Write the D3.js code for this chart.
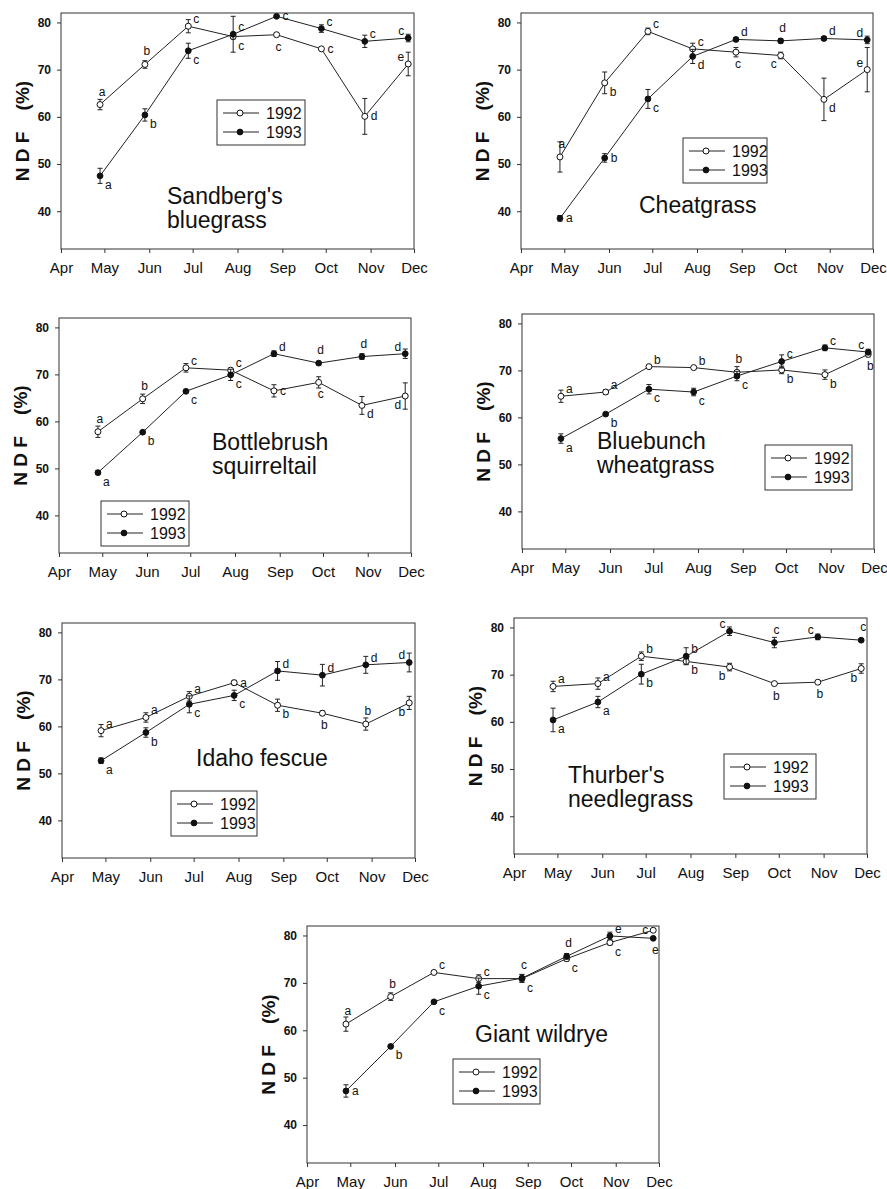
<!DOCTYPE html>
<html>
<head>
<meta charset="utf-8">
<script src="https://cdn.jsdelivr.net/npm/d3@7/dist/d3.min.js"></script>
<style>
body { margin: 0; background: #fff; }
svg { font-family: "Liberation Sans", Arial, sans-serif; }
</style>
</head>
<body>
<svg width="887" height="1189"></svg>
<script>
// sampling dates (close to the end of each month)
var sampleDates = ["1992-04-28", "1992-05-29", "1992-06-28", "1992-07-29",
                   "1992-08-28", "1992-09-28", "1992-10-28", "1992-11-27"];
var monthTicks = ["1992-04-01", "1992-05-01", "1992-06-01", "1992-07-01", "1992-08-01",
                  "1992-09-01", "1992-10-01", "1992-11-01", "1992-12-01"];
var yTicks = [40, 50, 60, 70, 80];
var years = ["1992", "1993"];

var species = [["Sandberg's", "bluegrass"], ["Cheatgrass"], ["Bottlebrush", "squirreltail"],
               ["Bluebunch", "wheatgrass"], ["Idaho fescue"], ["Thurber's", "needlegrass"],
               ["Giant wildrye"]];

// NDF (%) means, one row per species
var ndf1992 = [
  [62.6, 71.1, 79.2, 77.0, 77.4, 74.4, 60.1, 71.2],
  [51.5, 67.2, 78.1, 74.4, 73.7, 73.0, 63.7, 70.0],
  [57.8, 64.8, 71.4, 70.9, 66.5, 68.3, 63.4, 65.4],
  [64.5, 65.4, 70.8, 70.6, 69.6, 70.1, 69.1, 73.4],
  [59.1, 61.9, 66.4, 69.3, 64.5, 62.8, 60.5, 65.0],
  [67.5, 68.1, 73.9, 72.8, 71.6, 68.1, 68.4, 71.3],
  [61.3, 67.1, 72.2, 70.9, 70.9, 75.1, 78.5, 81.1]
];
var ndf1993 = [
  [47.5, 60.4, 74.0, 77.5, 81.3, 78.7, 76.0, 76.7],
  [38.5, 51.3, 63.8, 72.8, 76.4, 76.1, 76.6, 76.3],
  [49.1, 57.7, 66.4, 69.9, 74.4, 72.4, 73.8, 74.4],
  [55.5, 60.7, 66.0, 65.4, 68.8, 71.9, 74.8, 73.9],
  [52.7, 58.7, 64.7, 66.6, 71.8, 70.9, 73.1, 73.6],
  [60.4, 64.2, 70.1, 73.9, 79.2, 76.8, 78.0, 77.3],
  [47.2, 56.6, 66.0, 69.3, 71.0, 75.6, 79.9, 79.4]
];
// standard errors
var se1992 = [
  [1.1, 0.8, 1.4, 0.5, 0.4, 0.3, 3.8, 2.5],
  [3.2, 2.3, 0.7, 1.2, 1.0, 0.7, 4.5, 4.7],
  [1.2, 1.0, 0.9, 0.4, 1.3, 1.2, 1.9, 2.8],
  [1.3, 0.5, 0.3, 0.3, 1.2, 0.8, 1.0, 0.5],
  [1.3, 1.0, 1.0, 0.5, 1.3, 0.5, 1.3, 1.4],
  [1.1, 1.2, 0.9, 0.6, 0.8, 0.3, 0.3, 1.0],
  [1.5, 0.8, 0.2, 0.8, 0.8, 0.5, 0.5, 0.2]
];
var se1993 = [
  [1.6, 1.3, 1.6, 3.8, 0.3, 0.8, 1.3, 0.8],
  [0.6, 0.9, 2.0, 1.5, 0.4, 0.5, 0.4, 0.8],
  [0.4, 0.3, 0.3, 1.2, 0.6, 0.4, 0.6, 1.0],
  [1.0, 0.3, 1.0, 0.8, 1.0, 1.4, 0.6, 0.6],
  [0.6, 1.0, 1.8, 1.1, 2.0, 2.3, 1.8, 2.0],
  [2.5, 1.2, 2.1, 1.8, 0.9, 1.1, 0.6, 0.3],
  [1.3, 0.3, 0.2, 1.7, 0.8, 0.6, 0.8, 0.2]
];
// significance letters
var letters1992 = ["abccccde", "abccccde", "abccccdd", "aabbbbbb", "aaaabbbb", "aabbbbbb", "abcccccc"];
var letters1993 = ["abcccccc", "abcddddd", "abccdddd", "abcccccc", "abccdddd", "aabbcccc", "abcccdee"];

// where each letter sits next to its point
var pos1992 = [
  ["u", "u", "ur", "dr", "d", "r", "r", "ul"],
  ["u", "dr", "ur", "ur", "d", "dl", "dr", "ul"],
  ["u", "u", "ur", "ur", "r", "d", "dr", "dl"],
  ["ur", "ur", "ur", "ur", "u", "dr", "dr", "d"],
  ["ur", "ur", "ur", "r", "dr", "d", "u", "dl"],
  ["ur", "ur", "ur", "dr", "dl", "d", "d", "dl"],
  ["u", "u", "ur", "ur", "dr", "dr", "dr", "l"]
];
var pos1993 = [
  ["dr", "dr", "dr", "ur", "r", "ur", "ur", "ul"],
  ["r", "r", "dr", "dr", "ur", "u", "ur", "ul"],
  ["dr", "dr", "dr", "dr", "ur", "u", "u", "ul"],
  ["dr", "dr", "dr", "dr", "dr", "ur", "ur", "ul"],
  ["dr", "dr", "dr", "dr", "ur", "ur", "ur", "ul"],
  ["dr", "dr", "dr", "ur", "ul", "u", "ul", "u"],
  ["r", "dr", "dr", "dr", "u", "u", "ur", "d"]
];
var offsets = {
  u:  { dx: 2,  dy: -9, anchor: "middle" },
  d:  { dx: 2,  dy: 16, anchor: "middle" },
  r:  { dx: 6,  dy: 4,  anchor: "start" },
  ur: { dx: 5,  dy: -3, anchor: "start" },
  dr: { dx: 5,  dy: 13, anchor: "start" },
  ul: { dx: -4, dy: -3, anchor: "end" },
  dl: { dx: -4, dy: 13, anchor: "end" },
  l:  { dx: -5, dy: 4,  anchor: "end" }
};

// panel layout: plot box, legend box, species label
var panels = [
  { l: 61,  t: 13,  r: 414, b: 249,  lx: 217, ly: 100,  lw: 88, sx: 167, sy: 204 },
  { l: 521, t: 13,  r: 873, b: 249,  lx: 683, ly: 138,  lw: 84, sx: 639, sy: 213 },
  { l: 59,  t: 318, r: 411, b: 553,  lx: 101, ly: 501,  lw: 88, sx: 212, sy: 450 },
  { l: 522, t: 314, r: 874, b: 549,  lx: 765, ly: 445,  lw: 87, sx: 597, sy: 449 },
  { l: 62,  t: 623, r: 415, b: 858,  lx: 171, ly: 791,  lw: 86, sx: 196, sy: 766 },
  { l: 514, t: 618, r: 867, b: 854,  lx: 724, ly: 754,  lw: 92, sx: 568, sy: 783 },
  { l: 307, t: 926, r: 659, b: 1163, lx: 453, ly: 1059, lw: 87, sx: 475, sy: 1042 }
];

var parse = d3.timeParse("%Y-%m-%d");
var dates = sampleDates.map(parse);
var ticks = monthTicks.map(parse);

var svg = d3.select("svg");

panels.forEach(function(p, i) {
  var x = d3.scaleTime().domain([ticks[0], ticks[ticks.length - 1]]).range([p.l, p.r]);
  var y = d3.scaleLinear().domain([32, 82]).range([p.b, p.t]);
  var g = svg.append("g");

  // frame
  g.append("rect")
    .attr("x", p.l).attr("y", p.t)
    .attr("width", p.r - p.l).attr("height", p.b - p.t)
    .attr("fill", "none").attr("stroke", "#333").attr("stroke-width", 1);

  var xAxis = g.append("g")
    .attr("transform", "translate(0," + p.b + ")")
    .call(d3.axisBottom(x).tickValues(ticks).tickFormat(d3.timeFormat("%b"))
      .tickSize(4).tickPadding(9));
  xAxis.select(".domain").remove();
  xAxis.selectAll("text").attr("font-size", 15).attr("font-family", "Liberation Sans, Arial, sans-serif")
    .attr("fill", "#111");
  xAxis.selectAll("line").attr("stroke", "#333");

  var yAxis = g.append("g")
    .attr("transform", "translate(" + p.l + ",0)")
    .call(d3.axisLeft(y).tickValues(yTicks).tickSize(4).tickPadding(6));
  yAxis.select(".domain").remove();
  yAxis.selectAll("text").attr("font-size", 12).attr("font-weight", "bold")
    .attr("font-family", "Liberation Sans, Arial, sans-serif").attr("fill", "#111");
  yAxis.selectAll("line").attr("stroke", "#333");

  // y title (non-breaking spaces keep the wide gaps)
  g.append("text")
    .attr("transform", "translate(" + (p.l - 39) + "," + ((p.t + p.b) / 2) + ") rotate(-90)")
    .attr("text-anchor", "middle").attr("dominant-baseline", "central")
    .attr("font-size", 19).attr("font-weight", "bold").attr("fill", "#111")
    .text("N\u00A0D\u00A0F\u00A0\u00A0\u00A0\u00A0(%)");

  // species name
  species[i].forEach(function(s, k) {
    g.append("text").attr("x", p.sx).attr("y", p.sy + k * 24)
      .attr("font-size", 23).attr("fill", "#111").text(s);
  });

  var series = [
    { vals: ndf1992[i], se: se1992[i], let: letters1992[i], pos: pos1992[i], open: true },
    { vals: ndf1993[i], se: se1993[i], let: letters1993[i], pos: pos1993[i], open: false }
  ];

  var line = d3.line().x(function(d) { return x(d.date); }).y(function(d) { return y(d.v); });

  series.forEach(function(s) {
    var pts = s.vals.map(function(v, j) {
      return { date: dates[j], v: v, se: s.se[j], lt: s.let[j], pos: s.pos[j] };
    });
    var eb = g.append("g").attr("stroke", "#222").attr("stroke-width", 1);
    pts.forEach(function(d) {
      var cx = x(d.date), y0 = y(d.v - d.se), y1 = y(d.v + d.se);
      eb.append("line").attr("x1", cx).attr("x2", cx).attr("y1", y0).attr("y2", y1);
      eb.append("line").attr("x1", cx - 2.5).attr("x2", cx + 2.5).attr("y1", y0).attr("y2", y0);
      eb.append("line").attr("x1", cx - 2.5).attr("x2", cx + 2.5).attr("y1", y1).attr("y2", y1);
    });
    g.append("path").datum(pts).attr("d", line)
      .attr("fill", "none").attr("stroke", "#222").attr("stroke-width", 1);
    g.selectAll(null).data(pts).enter().append("circle")
      .attr("cx", function(d) { return x(d.date); })
      .attr("cy", function(d) { return y(d.v); })
      .attr("r", s.open ? 3 : 2.9)
      .attr("fill", s.open ? "#fff" : "#111")
      .attr("stroke", "#111").attr("stroke-width", 1);
    g.selectAll(null).data(pts).enter().append("text")
      .attr("x", function(d) { return x(d.date) + offsets[d.pos].dx; })
      .attr("y", function(d) { return y(d.v) + offsets[d.pos].dy; })
      .attr("text-anchor", function(d) { return offsets[d.pos].anchor; })
      .attr("font-size", 12).attr("fill", "#111")
      .text(function(d) { return d.lt; });
  });

  // legend
  var lg = g.append("g").attr("transform", "translate(" + p.lx + "," + p.ly + ")");
  lg.append("rect").attr("width", p.lw).attr("height", 45)
    .attr("fill", "#fff").attr("stroke", "#333").attr("stroke-width", 1);
  years.forEach(function(yr, k) {
    var cy = 13 + k * 19;
    lg.append("line").attr("x1", 6).attr("x2", 42).attr("y1", cy).attr("y2", cy)
      .attr("stroke", "#222").attr("stroke-width", 1);
    lg.append("circle").attr("cx", 23).attr("cy", cy).attr("r", k === 0 ? 3 : 2.9)
      .attr("fill", k === 0 ? "#fff" : "#111").attr("stroke", "#111");
    lg.append("text").attr("x", 49).attr("y", cy + 6)
      .attr("font-size", 16).attr("fill", "#111").text(yr);
  });
});
</script>
</body>
</html>
